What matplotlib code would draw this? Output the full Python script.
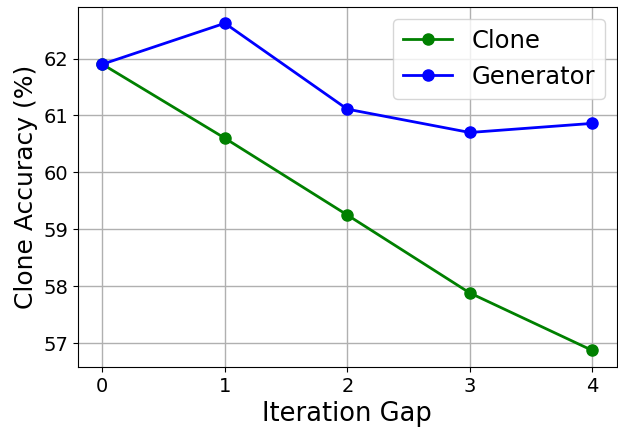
import matplotlib
matplotlib.use('Agg')
import matplotlib.pyplot as plt

# Daten
gaps = [0, 1, 2, 3, 4]
clone_acc = [61.9, 60.6, 59.25, 57.88, 56.87]
generator_acc = [61.9, 62.62, 61.11, 60.7, 60.86]

fig = plt.figure(figsize=(6.18, 4.30), dpi=100)
ax = fig.add_axes([0.126, 0.147, 0.872, 0.837])

ax.plot(gaps, clone_acc, color='green', marker='o', markersize=8, linewidth=2, label='Clone')
ax.plot(gaps, generator_acc, color='blue', marker='o', markersize=8, linewidth=2, label='Generator')

ax.set_xlabel('Iteration Gap', fontsize=18.5)
ax.set_ylabel('Clone Accuracy (%)', fontsize=18)
ax.set_xticks(gaps)
ax.tick_params(labelsize=14)
ax.grid(True, color='#b0b0b0', linewidth=1)
ax.legend(fontsize=17.5, loc='upper right')

fig.savefig('out.png', dpi=100)
